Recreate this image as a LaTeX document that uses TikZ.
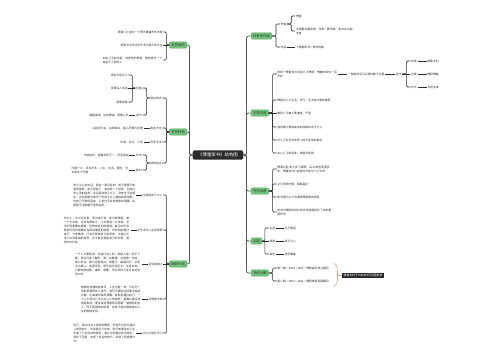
\documentclass[tikz,border=0pt]{standalone}
\usepackage{fontspec}
\newfontfamily\cjk{Noto Sans CJK SC}
\XeTeXlinebreaklocale "zh"
\XeTeXlinebreakskip=0pt plus 0.4pt
\usetikzlibrary{calc}
\definecolor{MapInk}{HTML}{2E2E2E}
\definecolor{MapLine}{HTML}{2E2E2E}
\definecolor{MapSpine}{HTML}{5A5A5A}
\definecolor{MapHub}{HTML}{2B2B2B}
\definecolor{MapGreen}{HTML}{74C67C}
\definecolor{MapGreenEdge}{HTML}{4FA85A}
\definecolor{MapBrace}{HTML}{E3A48D}
\tikzset{
  every node/.style={font=\cjk\fontsize{2.8}{4}\selectfont, text=MapInk},
  hub/.style={fill=MapHub, text=white, rounded corners=1.5pt, inner xsep=5.5pt, inner ysep=2.6pt, font=\cjk\fontsize{4.4}{5}\selectfont},
  topic/.style={fill=MapGreen, draw=MapGreenEdge, line width=0.4pt, rounded corners=1pt, inner xsep=1.8pt, inner ysep=1.6pt, font=\cjk\fontsize{3.4}{4}\selectfont},
  leaf/.style={inner sep=0.6pt},
  para/.style={leaf, align=left, text width=#1},
  spine/.style={draw=MapSpine, line width=0.8pt, rounded corners=2pt},
  link/.style={draw=MapLine, line width=0.6pt, rounded corners=1.2pt},
  summary/.style={fill=MapHub, text=white, inner xsep=2pt, inner ysep=1.2pt},
  brace/.style={draw=MapBrace, line width=0.6pt},
}
\begin{document}
\begin{tikzpicture}[x=1pt,y=-1pt]
  \fill[white] (0,0) rectangle (500,360);
  \useasboundingbox (0,0) rectangle (500,360);
  % hub and first-level topics
  \node[hub] (hub) at (218,155) {《傅雷家书》结构图};
  \node[topic, anchor=west] (author) at (251,36) {作者及作品};
  \node[topic, anchor=west] (content) at (251,113) {主要内容};
  \node[topic, anchor=west] (backdrop) at (251,191) {写作背景};
  \node[topic, anchor=west] (theme) at (251,241) {主题};
  \node[topic, anchor=west] (period) at (251,273) {书信分期};
  \node[topic, anchor=east] (purpose) at (187,45) {写作目的};
  \node[topic, anchor=east] (feature) at (187,132) {写作特色};
  \node[topic, anchor=east] (excerpt) at (187,264) {精彩片段};
  \foreach \t in {author,content,backdrop,theme,period}
    \draw[spine] (hub.east) -- ++(3,0) |- (\t.west);
  \foreach \t in {purpose,feature,excerpt}
    \draw[spine] (hub.west) -- ++(-3,0) |- (\t.east);

  % right: author and works
  \node[leaf, anchor=west] (writer) at ($(author.east |- 0,24)+(8,0)$) {作者};
  \node[leaf, anchor=west] (works) at ($(author.east |- 0,47)+(8,0)$) {作品};
  \node[leaf, anchor=west] (fulei) at ($(writer.east |- 0,16)+(8,0)$) {傅雷};
  \node[para=60pt, anchor=west] (career) at ($(writer.east |- 0,31)+(8,0)$) {中国著名翻译家、作家、教育家、美术评论家、学者};
  \node[leaf, anchor=west] (worksnote) at ($(works.east)+(8,0)$) {《傅雷家书》等书信集};
  \foreach \c in {writer,works}
    \draw[link] (author.east) -- ++(4,0) |- (\c.west);
  \foreach \c in {fulei,career}
    \draw[link] (writer.east) -- ++(4,0) |- (\c.west);
  \draw[link] (works.east) -- (worksnote.west);

  % right: main content
  \node[para=60pt, anchor=west] (c1) at ($(content.east |- 0,74)+(8,0)$) {收录了傅雷夫妇写给儿子傅聪、傅敏的家信一百多封};
  \node[leaf, anchor=west] (c2) at ($(content.east |- 0,100)+(8,0)$) {傅雷对儿子生活、学习、艺术各方面的教导};
  \node[leaf, anchor=west] (c3) at ($(content.east)+(8,0)$) {教导儿子做人要谦虚、严谨};
  \node[leaf, anchor=west] (c4) at ($(content.east |- 0,127)+(8,0)$) {强调做人要有高尚的品格和赤子之心};
  \node[leaf, anchor=west] (c5) at ($(content.east |- 0,140)+(8,0)$) {对儿子在艺术修养上给予具体的指导};
  \node[leaf, anchor=west] (c6) at ($(content.east |- 0,153)+(8,0)$) {关心儿子的恋爱、婚姻与家庭};
  \foreach \c in {c1,c2,c4,c5,c6}
    \draw[link] (content.east) -- ++(4,0) |- (\c.west);
  \draw[link] (content.east) -- (c3.west);
  \node[leaf, anchor=west] (c1b) at ($(c1.east)+(9,0)$) {一部饱含深沉父爱的教子名篇};
  \node[leaf, anchor=west] (jiashu) at ($(c1b.east)+(10,0)$) {家书};
  \draw[link] (c1.east) -- (c1b.west);
  \draw[link] (c1b.east) -- (jiashu.west);
  \node[leaf, anchor=west] (js1) at ($(jiashu.east |- 0,61)+(8,0)$) {作者};
  \node[leaf, anchor=west] (js2) at ($(jiashu.east)+(8,0)$) {对象};
  \node[leaf, anchor=west] (js3) at ($(jiashu.east |- 0,87)+(8,0)$) {形式};
  \foreach \c in {js1,js3}
    \draw[link] (jiashu.east) -- ++(4,0) |- (\c.west);
  \draw[link] (jiashu.east) -- (js2.west);
  \foreach \c/\txt in {js1/傅雷夫妇, js2/傅聪傅敏, js3/书信往来} {
    \node[leaf, anchor=west] (\c l) at ($(\c.east)+(9,0)$) {\txt};
    \draw[link] (\c.east) -- (\c l.west);
  }

  % right: background
  \node[para=54pt, anchor=west] (b1) at ($(backdrop.east |- 0,169)+(8,0)$) {傅聪远赴波兰学习钢琴，后又旅居英国多年，傅雷夫妇只能通过书信与儿子交流};
  \node[leaf, anchor=west] (b2) at ($(backdrop.east |- 0,184)+(8,0)$) {父子两地分隔，相距遥远};
  \node[leaf, anchor=west] (b3) at ($(backdrop.east |- 0,197)+(8,0)$) {家书成为父子沟通思想感情的桥梁};
  \node[para=54pt, anchor=west] (b4) at ($(backdrop.east |- 0,212)+(8,0)$) {家书对傅聪的成长和艺术道路起到了非常重要作用};
  \foreach \c in {b1,b2,b3,b4}
    \draw[link] (backdrop.east) -- ++(4,0) |- (\c.west);

  % right: theme
  \node[leaf, anchor=west] (t1) at ($(theme.east |- 0,228)+(7,0)$) {主旨};
  \node[leaf, anchor=west] (t2) at ($(theme.east)+(7,0)$) {情感};
  \node[leaf, anchor=west] (t3) at ($(theme.east |- 0,254)+(7,0)$) {目的};
  \foreach \c in {t1,t3}
    \draw[link] (theme.east) -- ++(3,0) |- (\c.west);
  \draw[link] (theme.east) -- (t2.west);
  \foreach \c/\txt in {t1/父子情深, t2/爱子之心, t3/德艺兼备} {
    \node[leaf, anchor=west] (\c l) at ($(\c.east)+(8,0)$) {\txt};
    \draw[link] (\c.east) -- (\c l.west);
  }

  % right: letter periods with summary
  \node[leaf, anchor=west] (p1) at ($(period.east |- 0,268)+(8,0)$) {第一辑（1954—1957）傅聪留学波兰期间};
  \node[leaf, anchor=west] (p2) at ($(period.east |- 0,281)+(8,0)$) {第二辑（1957—1966）傅聪旅居英国期间};
  \foreach \c in {p1,p2}
    \draw[link] (period.east) -- ++(4,0) |- (\c.west);
  \coordinate (bracetop) at ($(p1.east |- 0,263)+(4,0)$);
  \coordinate (bracebot) at ($(p1.east |- 0,287)+(4,0)$);
  \coordinate (bracetip) at ($(p1.east |- 0,275)+(8,0)$);
  \draw[brace] (bracetop) .. controls +(4,3) and +(0,-6) .. (bracetip)
    .. controls +(0,6) and +(4,-3) .. (bracebot);
  \node[summary, anchor=west] (sum) at ($(bracetip)+(4,0)$) {傅雷夫妇于1966年9月含冤辞世};
  \draw[brace] (bracetip) -- (sum.west);

  % left: purpose
  \node[leaf, anchor=east] (u1) at ($(purpose.west |- 0,32)+(-6,0)$) {希望儿子成为一个德艺兼备的艺术家};
  \node[leaf, anchor=east] (u2) at ($(purpose.west)+(-6,0)$) {把家书当作讨论艺术与音乐的平台};
  \node[para=60pt, anchor=east] (u3) at ($(purpose.west |- 0,60)+(-6,0)$) {训练儿子的文笔，培养他的思想，使他成为一个有益于人民的人};
  \foreach \c in {u1,u3}
    \draw[link] (purpose.west) -- ++(-3,0) |- (\c.east);
  \draw[link] (purpose.west) -- (u2.east);

  % left: writing features
  \node[leaf, anchor=east] (f1) at ($(feature.west |- 0,98)+(-7,0)$) {语言特点};
  \node[leaf, anchor=east] (f2) at ($(feature.west |- 0,128)+(-7,0)$) {表达方式};
  \node[leaf, anchor=east] (f3) at ($(feature.west |- 0,142)+(-7,0)$) {写作手法};
  \node[leaf, anchor=east] (f4) at ($(feature.west |- 0,163)+(-7,0)$) {结构特点};
  \foreach \c in {f1,f2,f3,f4}
    \draw[link] (feature.west) -- ++(-3,0) |- (\c.east);
  \node[leaf, anchor=east] (f1a) at ($(f1.west |- 0,88)+(-7,0)$) {风格};
  \node[leaf, anchor=east] (f1b) at ($(f1.west |- 0,115)+(-7,0)$) {语气};
  \foreach \c in {f1a,f1b}
    \draw[link] (f1.west) -- ++(-3,0) |- (\c.east);
  \node[leaf, anchor=east] (g1) at ($(f1a.west |- 0,75)+(-7,0)$) {语言平易近人};
  \node[leaf, anchor=east] (g2) at ($(f1a.west)+(-7,0)$) {说理深入浅出};
  \node[leaf, anchor=east] (g3) at ($(f1a.west |- 0,102)+(-7,0)$) {感情真挚};
  \foreach \c in {g1,g3}
    \draw[link] (f1a.west) -- ++(-3,0) |- (\c.east);
  \draw[link] (f1a.west) -- (g2.east);
  \node[leaf, anchor=east] (f1bl) at ($(f1b.west)+(-6,0)$) {循循善诱、谆谆教诲、语重心长};
  \node[leaf, anchor=east] (f2l) at ($(f2.west)+(-6,0)$) {以叙述为主，夹叙夹议，融入抒情与说理};
  \node[leaf, anchor=east] (f3l) at ($(f3.west)+(-6,0)$) {比喻、对比、引用};
  \draw[link] (f1b.west) -- (f1bl.east);
  \draw[link] (f2.west) -- (f2l.east);
  \draw[link] (f3.west) -- (f3l.east);
  \node[leaf, anchor=east] (f4a) at ($(f4.west |- 0,155)+(-7,0)$) {形式};
  \node[leaf, anchor=east] (f4b) at ($(f4.west |- 0,170)+(-7,0)$) {题材};
  \foreach \c in {f4a,f4b}
    \draw[link] (f4.west) -- ++(-3,0) |- (\c.east);
  \node[leaf, anchor=east] (f4al) at ($(f4a.west)+(-6,0)$) {书信体式，篇幅长短不一，灵活自由};
  \node[para=57pt, anchor=east] (f4bl) at ($(f4b.west)+(-6,0)$) {内容广泛，涉及艺术、人生、生活、婚恋、交友等多个方面};
  \draw[link] (f4a.west) -- (f4al.east);
  \draw[link] (f4b.west) -- (f4bl.east);

  % left: excerpts
  \node[leaf, anchor=east] (e1) at ($(excerpt.west |- 0,195)+(-6,0)$) {论保持赤子之心};
  \node[leaf, anchor=east] (e2) at ($(excerpt.west |- 0,230)+(-6,0)$) {论艺术与人生的修养};
  \node[leaf, anchor=east] (e3) at ($(excerpt.west)+(-6,0)$) {论坦诚做人};
  \node[leaf, anchor=east] (e4) at ($(excerpt.west |- 0,299)+(-6,0)$) {论情感节制};
  \node[leaf, anchor=east] (e5) at ($(excerpt.west |- 0,333)+(-6,0)$) {论父子相互学习};
  \foreach \c in {e1,e2,e4,e5}
    \draw[link] (excerpt.west) -- ++(-3,0) |- (\c.east);
  \draw[link] (excerpt.west) -- (e3.east);
  \node[para=62pt, anchor=east] (x1) at ($(e1.west)+(-6,0)$) {赤子之心这句话，我也一直记住的。赤子便是不知道孤独的。赤子孤独了，会创造一个世界，创造许多心灵的朋友！永远保持赤子之心，到老也不会落伍，永远能够与普天下的赤子之心相接相契相抱，你自己不觉得孤独，人家也不会觉得和你隔膜。这便是艺术家最可贵的品质。};
  \node[para=66pt, anchor=east] (x2) at ($(e2.west)+(-6,0)$) {先为人，次为艺术家，再为音乐家，终为钢琴家。做一个艺术家，必须有德有才，心中要有一片赤诚。艺术不但需要有理智，还得有热烈的感情。真正的艺术家在任何时候都应当保持谦虚的态度，时时刻刻检讨自己，力求精进。只有不断地学习和思考，才能在艺术上达到更高的境界，也才能对得起自己的天赋，望你时时记住。};
  \node[para=66pt, anchor=east] (x3) at ($(e3.west)+(-6,0)$) {一个人只要真诚，总能打动人的；即使人家一时不了解，日后仍会了解的。我一生做事，总是第一坦白，第二坦白，第三还是坦白。绕圈子，躲躲闪闪，反易叫人疑心；你耍手段，倒不如光明正大，实话实说，只要态度诚恳、谦卑、恭敬，无论如何人家不会对你怎么的。};
  \node[para=60pt, anchor=east] (x4) at ($(e4.west)+(-6,0)$) {感情的浪潮有起有伏，人生也是一样，不必为一时的低潮而灰心丧气。我们只要能在低潮中保持冷静，在高潮中保持清醒，就能把握住自己。一个人不经过几次大大小小的挫折，是难以真正成熟起来的。要学会用理智驾驭感情，做感情的主人，而不是感情的奴隶，这样才能冷静地面对人生的种种考验。};
  \node[para=62pt, anchor=east] (x5) at ($(e5.west)+(-6,0)$) {孩子，我从你身上得到的教训，恐怕不比你从我这儿得到的少。尤其是近三年来，你不知使我对人生多增了几许深刻的体验，我从与你相处的过程中，学到了忍耐，学到了说话的技巧，学到了把感情升华！};
  \foreach \c in {1,...,5}
    \draw[link] (e\c.west) -- (x\c.east);
\end{tikzpicture}
\end{document}
